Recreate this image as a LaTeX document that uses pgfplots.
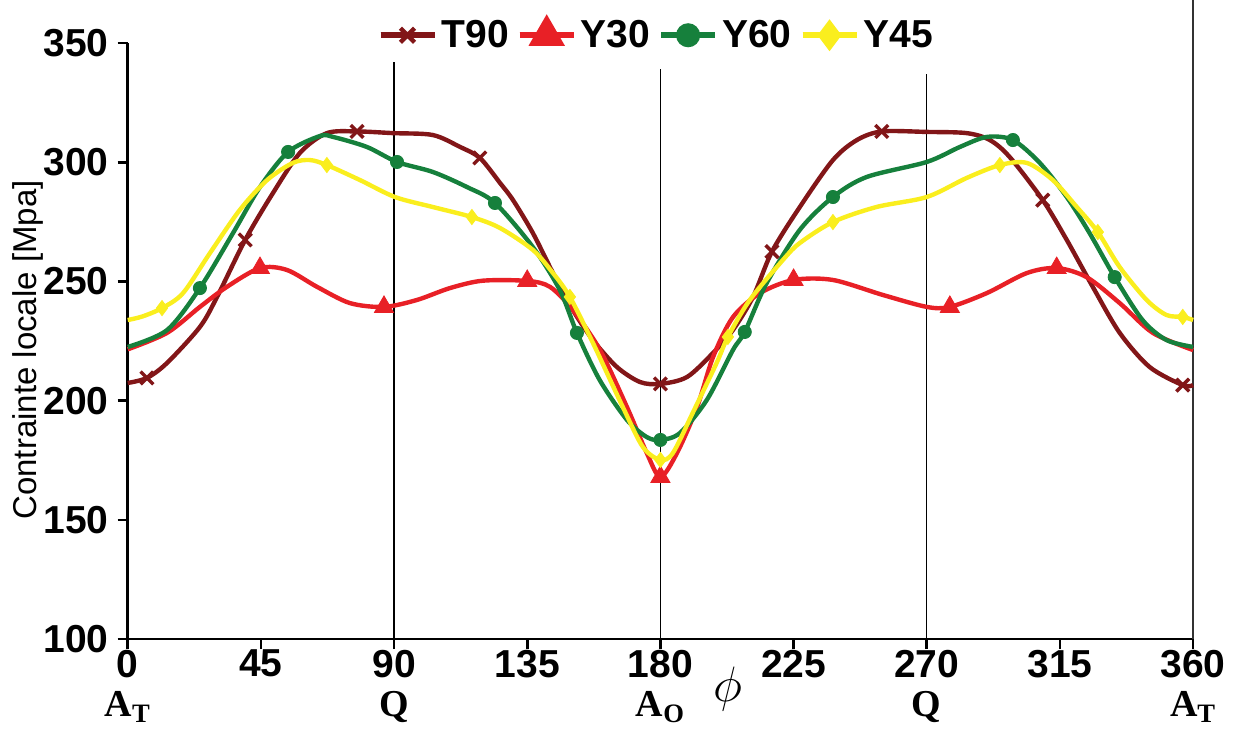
\documentclass[border=0pt]{standalone}
\usepackage{fontspec}
\setmainfont{Liberation Sans}
\newfontfamily\timesfont{Liberation Serif}
\usepackage{pgfplots}
\pgfplotsset{compat=1.18}
\definecolor{cT}{RGB}{130,22,24}
\definecolor{cR}{RGB}{232,32,38}
\definecolor{cG}{RGB}{22,128,60}
\definecolor{cY}{RGB}{250,238,30}
\begin{document}
\begin{tikzpicture}
\begin{axis}[
  name=ax, anchor=south west, at={(0,0)},
  scale only axis, width=532.7pt, height=298pt,
  xmin=0, xmax=360, ymin=100, ymax=350,
  axis x line=bottom, axis y line=left,
  axis line style={-, line width=1.4pt},
  xtick={0,45,...,360}, ytick={100,150,...,350},
  tick align=outside, major tick length=5pt,
  tick style={line width=1.3pt, black},
  /pgf/number format/assume math mode=true,
  tick label style={font=\bfseries\fontsize{19.5}{20}\selectfont},
  xticklabel style={yshift=3pt},
  yticklabel style={xshift=-1pt},
  clip=false,
  legend columns=4,
  legend style={draw=none, fill=none, at={(0.497,1.013)}, anchor=center,
    font=\bfseries\fontsize{19.5}{20}\selectfont, inner sep=1pt,
    /tikz/every even column/.append style={column sep=2pt},
    /tikz/every odd column/.append style={column sep=0pt}},
  legend image code/.code={\draw[#1] (0pt,0pt) -- (27pt,0pt);
    \draw[#1, mark repeat=2, mark phase=2] plot coordinates {(0pt,0pt) (13.5pt,0pt) (27pt,0pt)};},
]
% reference lines
\draw[black, line width=0.7pt] (axis cs:90,100) -- (axis cs:90,342);
\draw[black, line width=0.7pt] (axis cs:180,100) -- (axis cs:180,339);
\draw[black, line width=0.7pt] (axis cs:270,100) -- (axis cs:270,337);
\draw[black!80, line width=0.9pt] (axis cs:360,100) -- (axis cs:360,368);

\addlegendimage{cT, line width=3pt, mark=x, mark size=5pt, mark options={line width=2.2pt}}
\addlegendentry{T90}
\addlegendimage{cR, line width=3pt, mark=triangle*, mark size=7.5pt}
\addlegendentry{Y30}
\addlegendimage{cG, line width=3pt, mark=*, mark size=4.5pt}
\addlegendentry{Y60}
\addlegendimage{cY, line width=3pt, mark=diamond*, mark size=5.5pt}
\addlegendentry{Y45}

% T90
\addplot[cT, line width=2.2pt, smooth, forget plot] coordinates {
(0,207.4) (6.5,209.5) (13.3,215.8) (24.4,230.9) (30.2,243.5) (39.7,267.4) (49.1,287.1)
(58.2,303.9) (67.3,312.2) (77.5,312.9) (89.6,312.2) (103.1,311.4) (112.3,306.4) (119,301.8)
(125.8,291.3) (130.2,284.1) (136.9,270.3) (143.7,253.5) (150.4,238) (157.2,225.4) (165.3,214.1)
(173.1,207.8) (180,207) (189,209.9) (197.8,220) (204.5,229.6) (211.3,243.5) (217.7,262.5)
(227.1,281.2) (238.3,300.9) (246.4,309.3) (254.8,312.9) (270,312.7) (283.5,312.2) (291.3,309.3)
(298,302.2) (309.2,284.1) (317.3,267.4) (326.1,247.7) (335.2,228.4) (345.3,214.1) (356.5,206.5) (360,206.5)};
\addplot[cT, only marks, mark=x, mark size=4.5pt, mark options={line width=1.7pt}, forget plot] coordinates {
(6.5,209.5) (39.7,267.4) (77.5,312.9) (119,301.8) (180,207) (217.7,262.5) (254.8,312.9) (309.2,284.1) (356.5,206.5)};

% Y30
\addplot[cR, line width=2.2pt, smooth, forget plot] coordinates {
(0,221.5) (13.3,228.4) (24.4,239.3) (33.5,247.7) (44.7,255.6) (53.8,254.8) (64,247.7)
(75.1,240.9) (86.6,239.3) (97.7,242.2) (108.9,247.2) (120,250.3) (135,250.2) (142.7,247.7)
(150.4,238) (159.6,221.2) (168.7,197.3) (175.4,178) (180,168) (185.6,178) (192.4,197.3)
(197.8,218.3) (204.5,235) (213.7,245.1) (225,250.6) (238.3,250.6) (255.2,244.3) (270,239.3)
(277.8,239.3) (290.3,245.1) (303.8,253.5) (313.9,255.6) (324,251.8) (335.2,240.9)
(346.4,228.4) (360,221.2)};
\addplot[cR, only marks, mark=triangle*, mark size=5.5pt, forget plot] coordinates {
(44.7,255.6) (86.6,239.3) (135,250.2) (180,168) (225,250.6) (277.8,239.3) (313.9,255.6)};

% Y60
\addplot[cG, line width=2.2pt, smooth, forget plot] coordinates {
(0,222.5) (13.3,229.6) (24.4,247.2) (35.6,270.3) (44.7,289.6) (54.2,304.3) (65,311)
(69.4,310.6) (80.8,306.4) (91,300.1) (103.1,295.9) (114.6,289.6) (124.1,282.9)
(136.9,264.4) (146,246.4) (151.8,228.4) (159.5,208.6) (168.7,191.9) (175.4,184.7)
(180,183.5) (186.6,186.4) (195.7,200.3) (204.5,221.2) (208.5,228.8) (215.9,249.3)
(227.1,271.6) (238.3,285.4) (249.7,293.8) (270,300.1) (281.2,306.4) (290.3,310.6)
(299.1,309.3) (308.2,299.7) (317.3,285.4) (325,270.3) (333.5,251.8) (342.9,233.8)
(351,225.4) (360,222.5)};
\addplot[cG, only marks, mark=*, mark size=3.3pt, forget plot] coordinates {
(24.4,247.2) (54.2,304.3) (91,300.1) (124.1,282.9) (151.8,228.4) (180,183.5) (208.5,228.8)
(238.3,285.4) (299.1,309.3) (333.5,251.8)};

% Y45
\addplot[cY, line width=2.2pt, smooth, forget plot] coordinates {
(0,233.8) (5,235.3) (11.6,238.8) (18.7,245.1) (27.8,261.9) (37.9,280) (47.1,292.5) (55.8,299.7)
(61.6,300.9) (67.3,298.8) (78.5,292.5) (90.3,285.4) (103.1,281.2) (116.3,277) (125.8,272.4)
(136.9,263.2) (143.7,253.5) (149.4,243.5) (157.2,224.2) (167.3,197.3) (174.1,180.5)
(180,175.1) (184.2,178) (190.9,194.8) (199,215.8) (202.8,226.7) (210.2,242.2) (221.4,259)
(227.1,266.1) (238.3,274.9) (253,281.2) (270,285.4) (283.5,293.4) (294.7,298.8)
(303.8,299.7) (312.6,292.5) (320.7,281.2) (327.8,270.7) (335.2,256) (344.3,242.2)
(351,235.9) (356.5,235.1) (360,233.8)};
\addplot[cY, only marks, mark=diamond*, mark size=3.8pt, forget plot] coordinates {
(11.6,238.8) (67.3,298.8) (116.3,277) (149.4,243.5) (180,175.1) (202.8,226.7) (238.3,274.9)
(294.7,298.8) (327.8,270.7) (356.5,235.1)};

% second-row labels
\node[font=\timesfont\bfseries\fontsize{19}{19}\selectfont] at (axis cs:0,100) [yshift=-34pt] {A\textsubscript{T}};
\node[font=\timesfont\bfseries\fontsize{19}{19}\selectfont] at (axis cs:90,100) [yshift=-34pt] {Q};
\node[font=\timesfont\bfseries\fontsize{19}{19}\selectfont] at (axis cs:180,100) [yshift=-34pt] {A\textsubscript{O}};
\node[font=\timesfont\bfseries\fontsize{19}{19}\selectfont] at (axis cs:270,100) [yshift=-34pt] {Q};
\node[font=\timesfont\bfseries\fontsize{19}{19}\selectfont] at (axis cs:360,100) [yshift=-34pt] {A\textsubscript{T}};
\node[font=\fontsize{30}{30}\selectfont] at (axis cs:202.8,100) [yshift=-25pt] {$\phi$};
\node[rotate=90, font=\fontsize{16.5}{16.5}\selectfont] at (axis description cs:-0.094,0.485) {Contrainte locale [Mpa]};
\end{axis}
\pgfresetboundingbox
\path (-63.85pt,-55pt) rectangle (553.15pt,319.5pt);
\end{tikzpicture}
\end{document}
